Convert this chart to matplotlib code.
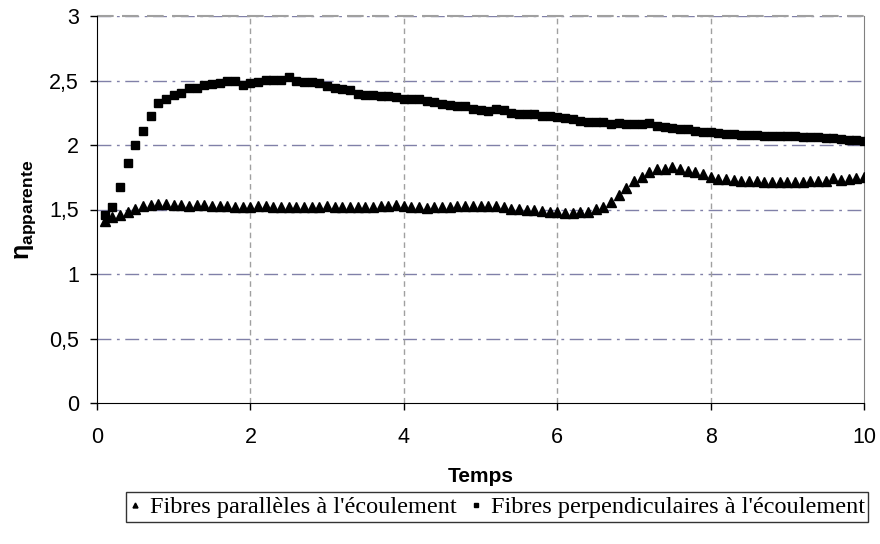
import numpy as np
import matplotlib
matplotlib.use("Agg")
import matplotlib.pyplot as plt
from matplotlib.ticker import FuncFormatter

temps = [round(0.1 * i, 1) for i in range(1, 101)]

paralleles = [
    1.413, 1.439, 1.455, 1.483, 1.501, 1.527, 1.532, 1.545, 1.540, 1.537,
    1.535, 1.527, 1.532, 1.532, 1.530, 1.530, 1.524, 1.522, 1.522, 1.522,
    1.524, 1.527, 1.522, 1.522, 1.516, 1.516, 1.516, 1.522, 1.522, 1.527,
    1.517, 1.520, 1.520, 1.517, 1.520, 1.520, 1.530, 1.527, 1.532, 1.527,
    1.522, 1.517, 1.509, 1.520, 1.522, 1.522, 1.524, 1.530, 1.527, 1.524,
    1.530, 1.527, 1.517, 1.504, 1.501, 1.494, 1.494, 1.491, 1.483, 1.481,
    1.475, 1.473, 1.478, 1.481, 1.504, 1.522, 1.561, 1.610, 1.669, 1.718,
    1.754, 1.788, 1.811, 1.814, 1.827, 1.811, 1.801, 1.788, 1.775, 1.749,
    1.736, 1.734, 1.726, 1.721, 1.721, 1.724, 1.716, 1.713, 1.716, 1.716,
    1.716, 1.711, 1.724, 1.724, 1.724, 1.742, 1.731, 1.736, 1.747, 1.754,
]

perpendiculaires = [
    1.457, 1.517, 1.677, 1.863, 1.997, 2.111, 2.225, 2.323, 2.354, 2.388,
    2.405, 2.439, 2.439, 2.468, 2.473, 2.478, 2.496, 2.496, 2.468, 2.483,
    2.488, 2.501, 2.501, 2.501, 2.530, 2.496, 2.490, 2.485, 2.483, 2.457,
    2.443, 2.431, 2.426, 2.395, 2.388, 2.388, 2.380, 2.378, 2.370, 2.357,
    2.357, 2.360, 2.341, 2.333, 2.318, 2.313, 2.302, 2.302, 2.276, 2.271,
    2.264, 2.276, 2.271, 2.251, 2.240, 2.240, 2.240, 2.225, 2.225, 2.215,
    2.207, 2.202, 2.184, 2.178, 2.178, 2.176, 2.166, 2.173, 2.165, 2.165,
    2.165, 2.168, 2.147, 2.142, 2.132, 2.121, 2.121, 2.111, 2.103, 2.101,
    2.090, 2.083, 2.083, 2.080, 2.078, 2.078, 2.070, 2.067, 2.070, 2.067,
    2.067, 2.065, 2.065, 2.062, 2.057, 2.054, 2.049, 2.039, 2.039, 2.028,
]

x_ticks = [0, 2, 4, 6, 8, 10]
y_ticks = [0, 0.5, 1, 1.5, 2, 2.5, 3]

plt.rcParams['font.family'] = ['Liberation Sans', 'DejaVu Sans']
plt.rcParams['mathtext.fontset'] = 'custom'
plt.rcParams['mathtext.rm'] = 'Liberation Sans:bold'
plt.rcParams['mathtext.it'] = 'Liberation Sans:bold'
plt.rcParams['mathtext.bf'] = 'Liberation Sans:bold'

fig = plt.figure(figsize=(8.8, 5.44), dpi=100)
ax = fig.add_axes([97 / 880, 1 - 403 / 544, (864 - 97) / 880, (403 - 16) / 544])

ax.plot(temps, paralleles, linestyle='none', marker='^', color='black',
        markersize=6.5, label="Fibres parallèles à l'écoulement", zorder=3)
ax.plot(temps, perpendiculaires, linestyle='none', marker='s', color='black',
        markersize=5.5, label="Fibres perpendiculaires à l'écoulement", zorder=3)

ax.set_xlim(0, 10)
ax.set_ylim(0, 3)
ax.set_xticks(x_ticks)
ax.set_yticks(y_ticks)
ax.yaxis.set_major_formatter(FuncFormatter(lambda v, p: ('%g' % v).replace('.', ',')))

ax.tick_params(axis='both', direction='out', length=5, width=1, color='black',
               labelsize=15.5)
ax.tick_params(axis='x', pad=12)
ax.tick_params(axis='y', pad=8)

# grids
for y in y_ticks[1:]:
    ax.axhline(y, color='#8080a8', linewidth=1, linestyle=(0, (10, 4, 2, 4)), zorder=1)
for x in x_ticks[1:-1]:
    ax.axvline(x, color='#a0a0a0', linewidth=1, linestyle=(0, (4, 3)), zorder=1)

ax.spines['top'].set_visible(False)
ax.spines['right'].set_color('#808080')
ax.spines['left'].set_color('black')
ax.spines['bottom'].set_color('black')
ax.axhline(3, color='#a0a0a0', linewidth=1.5, linestyle=(0, (8, 4)), zorder=1, clip_on=False)

ax.set_xlabel('Temps', fontweight='bold', fontsize=15, labelpad=14)
ax.set_ylabel(r'$\eta_{\mathrm{apparente}}$', fontsize=18, labelpad=8)

leg = fig.legend(loc='center', bbox_to_anchor=(497 / 880, 1 - 507 / 544), ncol=2,
                 prop={'family': 'Liberation Serif', 'size': 17.5},
                 frameon=True, fancybox=False, edgecolor='black',
                 handlelength=0.5, handletextpad=0.35, columnspacing=0.55,
                 borderpad=0.15, markerscale=0.55)
leg.get_frame().set_linewidth(1)

fig.savefig('out.png', dpi=100)
